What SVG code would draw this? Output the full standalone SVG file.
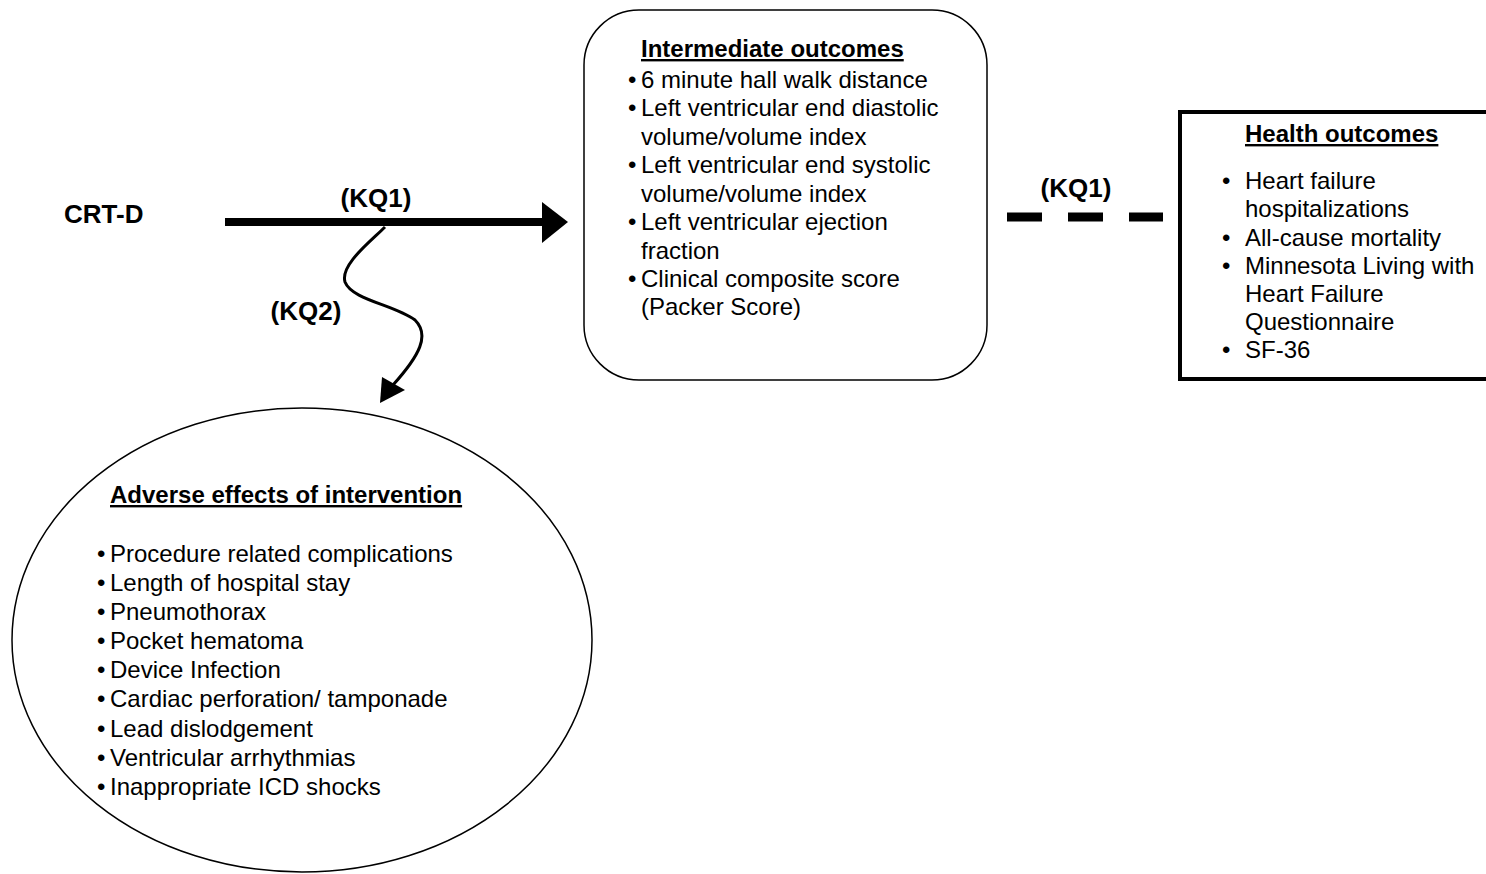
<svg xmlns="http://www.w3.org/2000/svg" width="1486" height="874" viewBox="0 0 1486 874">
<defs>
<style>
text{font-family:"Liberation Sans",Arial,sans-serif;font-size:24px;fill:#000}
.b{font-weight:bold}
.lbl{font-weight:bold;font-size:26px}
.u{text-decoration:underline}
.shape{fill:#fff;stroke:#000}
</style>
</defs>
<rect width="1486" height="874" fill="#fff"/>
<g id="connectors">
<line x1="225" y1="222" x2="545" y2="222" stroke="#000" stroke-width="8"/>
<polygon points="542,202 568,222 542,243" fill="#000"/>
<path d="M385,227 C370,242 340,265 345,282 C352,300 395,305 415,320 C430,335 420,355 393,385" fill="none" stroke="#000" stroke-width="3"/>
<polygon points="380,403 382,377 405,390" fill="#000"/>
<line x1="1007" y1="217" x2="1163" y2="217" stroke="#000" stroke-width="9" stroke-dasharray="35,26"/>
<text class="lbl" x="376" y="207" text-anchor="middle">(KQ1)</text>
<text class="lbl" x="306" y="320" text-anchor="middle">(KQ2)</text>
<text class="lbl" x="1076" y="197" text-anchor="middle">(KQ1)</text>
</g>
<g id="crtd">
<text class="lbl" x="64" y="223">CRT-D</text>
</g>
<g id="intermediate">
<rect class="shape" x="584" y="10" width="403" height="370" rx="55" ry="55" stroke-width="1.5"/>
<text class="b u" x="641" y="57">Intermediate outcomes</text>
<text x="628" y="88">•</text><text x="641" y="88">6 minute hall walk distance</text>
<text x="628" y="116">•</text><text x="641" y="116">Left ventricular end diastolic</text>
<text x="641" y="145">volume/volume index</text>
<text x="628" y="173">•</text><text x="641" y="173">Left ventricular end systolic</text>
<text x="641" y="202">volume/volume index</text>
<text x="628" y="230">•</text><text x="641" y="230">Left ventricular ejection</text>
<text x="641" y="259">fraction</text>
<text x="628" y="287">•</text><text x="641" y="287">Clinical composite score</text>
<text x="641" y="315">(Packer Score)</text>
</g>
<g id="health">
<rect class="shape" x="1180" y="112" width="320" height="267" stroke-width="4"/>
<text class="b u" x="1245" y="142">Health outcomes</text>
<text x="1222" y="189">•</text><text x="1245" y="189">Heart failure</text>
<text x="1245" y="217">hospitalizations</text>
<text x="1222" y="246">•</text><text x="1245" y="246">All-cause mortality</text>
<text x="1222" y="274">•</text><text x="1245" y="274">Minnesota Living with</text>
<text x="1245" y="302">Heart Failure</text>
<text x="1245" y="330">Questionnaire</text>
<text x="1222" y="358">•</text><text x="1245" y="358">SF-36</text>
</g>
<g id="adverse">
<ellipse class="shape" cx="302" cy="640" rx="290" ry="232" stroke-width="1.5"/>
<text class="b u" x="110" y="503">Adverse effects of intervention</text>
<text x="97" y="562">•</text><text x="110" y="562">Procedure related complications</text>
<text x="97" y="591">•</text><text x="110" y="591">Length of hospital stay</text>
<text x="97" y="620">•</text><text x="110" y="620">Pneumothorax</text>
<text x="97" y="649">•</text><text x="110" y="649">Pocket hematoma</text>
<text x="97" y="678">•</text><text x="110" y="678">Device Infection</text>
<text x="97" y="707">•</text><text x="110" y="707">Cardiac perforation/ tamponade</text>
<text x="97" y="737">•</text><text x="110" y="737">Lead dislodgement</text>
<text x="97" y="766">•</text><text x="110" y="766">Ventricular arrhythmias</text>
<text x="97" y="795">•</text><text x="110" y="795">Inappropriate ICD shocks</text>
</g>
</svg>
